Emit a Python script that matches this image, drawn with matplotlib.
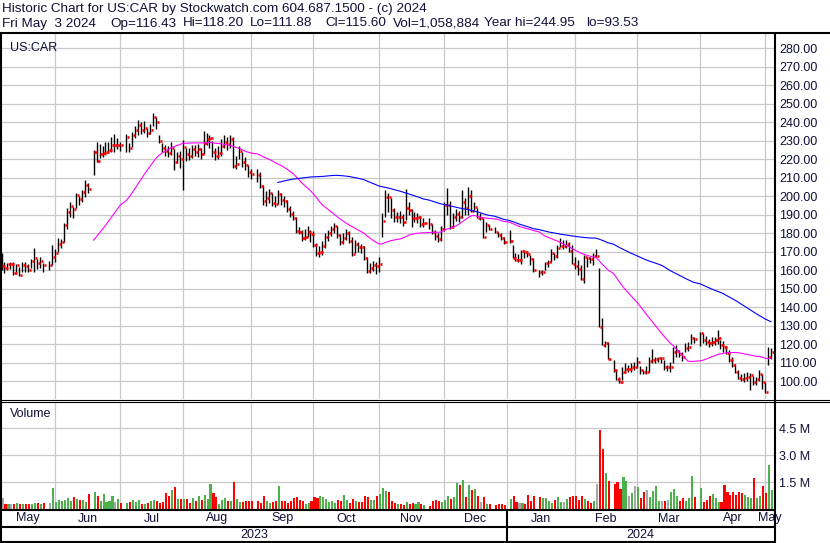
import numpy as np
import pandas as pd
import matplotlib
matplotlib.use('Agg')
import matplotlib.pyplot as plt
import matplotlib.transforms as mtransforms
from matplotlib.lines import Line2D

plt.rcParams['font.family'] = ['Liberation Sans', 'DejaVu Sans']

# daily bars US:CAR, 2023-05-08 .. 2024-05-03 (one line per month)
high = [
    169.2, 164.7, 164.0, 164.5, 164.3, 163.2, 162.0, 164.7, 164.3, 163.6, 166.1, 171.9, 166.1, 167.4, 164.1, 165.0, 173.7,
    171.4, 177.7, 177.0, 185.4, 193.5, 197.1, 194.4, 201.6, 200.4, 203.4, 208.8, 207.0, 224.9, 229.2, 228.1, 227.4, 229.2, 229.5, 232.3, 233.5, 231.3,
    229.5, 233.5, 229.0, 235.0, 238.0, 241.5, 240.0, 240.5, 237.0, 239.0, 244.95, 243.0, 233.2, 229.0, 227.5, 227.0, 229.5, 225.5, 224.0, 224.5,
    230.5, 226.0, 226.0, 227.5, 228.0, 228.5, 226.0, 235.5, 234.0, 233.0, 230.0, 226.0, 227.0, 231.0, 233.0, 232.0, 233.0, 232.0, 222.0, 227.0, 224.0, 221.0, 217.0,
    215.0, 214.5, 213.0, 206.0, 203.0, 204.0, 202.0, 200.0, 203.5, 202.0, 200.0, 198.0, 194.5, 192.0, 189.0, 183.5, 182.0, 182.5, 184.0, 182.0,
    181.0, 175.0, 173.0, 176.0, 180.0, 182.0, 184.0, 185.5, 184.0, 179.5, 180.0, 182.5, 181.0, 178.0, 176.5, 175.5, 174.0, 173.0, 167.0, 164.0, 165.0, 164.5,
    167.4, 190.8, 203.4, 201.6, 199.0, 193.5, 191.5, 192.0, 190.5, 204.0, 197.0, 193.0, 191.5, 191.0, 189.5, 188.5, 188.0, 185.0, 182.0, 180.0, 184.0,
    197.0, 204.5, 197.5, 191.0, 193.0, 192.0, 203.5, 199.0, 205.2, 203.4, 197.1, 193.5, 190.8, 188.1, 186.3, 184.5, 183.6, 180.9, 180.0, 178.0,
    181.8, 173.7, 169.2, 168.6, 171.0, 170.4, 170.1, 168.3, 166.5, 160.1, 160.1, 164.7, 165.6, 171.5, 169.2, 173.7, 177.3, 176.4, 176.4, 175.5, 173.7,
    167.4, 165.6, 162.9, 168.0, 167.4, 167.4, 169.2, 171.5, 161.1, 134.0, 122.0, 121.0, 111.5, 106.1, 102.5, 107.9, 109.7, 109.0, 109.7, 110.5,
    113.0, 108.0, 106.0, 108.0, 113.0, 117.5, 113.0, 113.0, 113.0, 111.5, 108.8, 110.5, 118.7, 119.5, 117.0, 116.0, 120.5, 121.0, 125.5, 124.0,
    126.5, 126.0, 124.5, 123.0, 124.0, 124.0, 127.5, 122.5, 121.5, 119.0, 117.0, 113.0, 109.5, 106.0, 104.0, 104.5, 105.0, 104.5, 103.0, 102.5, 106.0, 104.0,
    99.5, 118.7, 118.2,
]
low = [
    160.2, 158.4, 160.2, 160.7, 157.5, 159.3, 157.0, 159.3, 158.9, 159.3, 161.4, 159.3, 160.7, 161.4, 159.3, 160.2, 162.9,
    164.7, 170.1, 172.0, 175.1, 182.3, 189.0, 188.4, 193.5, 195.3, 197.1, 199.8, 201.6, 211.5, 218.7, 220.5, 221.4, 222.3, 223.2, 224.1, 224.1, 225.8,
    224.5, 224.1, 224.0, 226.5, 231.5, 233.0, 233.5, 234.0, 232.0, 233.5, 238.0, 236.5, 228.6, 224.0, 222.0, 221.5, 222.5, 214.0, 218.0, 215.5,
    203.4, 219.0, 219.5, 220.5, 222.0, 221.0, 220.0, 223.0, 228.0, 226.0, 221.0, 219.5, 220.0, 222.0, 226.0, 225.0, 226.0, 215.5, 215.0, 220.0, 216.0, 214.0, 210.5,
    209.5, 208.0, 204.5, 195.5, 195.0, 196.5, 195.0, 194.0, 196.0, 195.5, 194.0, 191.5, 189.0, 187.0, 180.0, 179.5, 176.0, 176.5, 178.0, 175.5,
    172.5, 167.5, 167.0, 168.5, 172.0, 176.0, 178.5, 180.0, 177.5, 173.5, 174.0, 176.5, 174.5, 167.5, 169.5, 170.0, 169.5, 165.5, 158.5, 158.5, 159.5, 158.0,
    159.3, 178.2, 189.0, 191.7, 188.0, 186.0, 186.0, 185.5, 184.0, 187.0, 190.0, 183.5, 186.0, 185.5, 183.5, 183.5, 182.5, 179.5, 176.5, 175.5, 176.0,
    181.0, 190.0, 182.5, 183.0, 186.5, 186.0, 188.0, 190.0, 189.9, 191.7, 192.6, 188.1, 187.2, 177.6, 180.9, 181.8, 180.0, 178.2, 176.4, 174.0,
    174.6, 166.5, 165.0, 164.3, 163.4, 166.5, 167.4, 162.9, 159.3, 156.5, 157.4, 160.1, 162.0, 164.3, 165.6, 166.8, 172.8, 171.5, 171.9, 170.1, 163.2,
    160.7, 157.4, 154.5, 153.0, 162.0, 163.8, 162.9, 167.4, 129.2, 119.6, 118.5, 112.0, 105.2, 100.5, 99.0, 100.7, 105.2, 105.0, 105.0, 106.0,
    107.0, 104.0, 104.0, 104.0, 105.0, 109.7, 109.7, 110.5, 109.7, 106.1, 105.7, 105.2, 109.7, 113.3, 113.0, 111.0, 116.0, 116.5, 120.0, 120.5,
    119.0, 120.5, 119.5, 118.5, 119.0, 119.5, 120.0, 117.5, 116.0, 114.5, 110.5, 107.5, 104.5, 101.0, 100.0, 99.5, 100.0, 95.5, 98.0, 98.0, 100.0, 96.0,
    93.53, 108.8, 111.88,
]
close = [
    162.3, 161.3, 163.6, 163.6, 158.6, 162.7, 157.5, 162.9, 162.3, 160.2, 165.2, 166.7, 164.1, 165.2, 162.9, 162.9, 167.4,
    169.5, 174.4, 175.5, 184.7, 191.5, 194.8, 193.2, 200.7, 198.6, 202.5, 206.1, 204.0, 224.1, 219.1, 223.1, 223.6, 224.1, 224.9, 227.7, 227.7, 227.9,
    227.7, 232.1, 226.1, 233.3, 236.0, 238.7, 236.0, 237.1, 234.4, 236.0, 243.1, 240.0, 230.1, 226.3, 224.3, 223.6, 226.3, 218.7, 222.0, 220.4,
    226.7, 222.9, 222.0, 225.4, 224.1, 225.4, 222.9, 229.0, 231.2, 231.7, 224.0, 221.8, 223.6, 227.4, 229.5, 228.5, 231.2, 216.4, 217.3, 224.5, 218.7, 216.8, 213.2,
    212.1, 211.7, 205.8, 197.3, 199.1, 201.6, 196.6, 195.9, 201.3, 198.0, 197.7, 193.2, 190.6, 188.3, 181.4, 180.7, 177.7, 178.2, 180.7, 179.6,
    173.7, 169.2, 169.7, 173.1, 178.0, 180.0, 182.1, 183.9, 179.1, 175.1, 177.6, 180.2, 176.0, 168.8, 174.2, 172.8, 172.4, 166.8, 159.8, 161.1, 163.0, 162.3,
    163.6, 186.8, 199.8, 199.4, 192.6, 188.6, 188.8, 188.6, 186.3, 193.8, 192.8, 188.1, 188.4, 188.6, 185.0, 185.7, 184.8, 180.9, 178.5, 177.1, 182.5,
    195.1, 195.3, 183.6, 188.6, 190.6, 188.6, 197.1, 193.5, 200.3, 192.2, 194.2, 188.4, 188.4, 178.0, 184.5, 182.1, 180.5, 179.1, 177.3, 175.5,
    176.0, 166.8, 165.7, 165.7, 170.4, 170.1, 168.6, 166.3, 160.1, 159.1, 159.2, 163.8, 164.3, 169.5, 167.7, 172.0, 173.3, 173.3, 174.2, 170.4, 163.6,
    162.5, 160.7, 155.3, 167.0, 166.5, 166.3, 167.9, 167.9, 129.3, 119.6, 120.9, 112.2, 106.1, 101.1, 99.8, 104.8, 106.8, 106.8, 107.5, 107.5,
    110.2, 106.1, 105.0, 105.0, 111.1, 111.5, 111.8, 112.7, 112.7, 107.5, 107.5, 107.9, 115.6, 116.2, 114.5, 113.3, 118.1, 118.3, 123.2, 122.9,
    125.9, 122.5, 121.4, 120.5, 121.4, 122.3, 123.5, 119.6, 118.7, 115.5, 111.5, 108.8, 105.2, 101.6, 101.2, 101.6, 102.5, 103.4, 99.8, 101.1, 103.8, 99.5,
    94.4, 113.3, 115.6,
]
# volume in millions of shares
volume = [
    0.6, 0.3, 0.3, 0.27, 0.27, 0.35, 0.27, 0.27, 0.27, 0.27, 0.3, 0.35, 0.35, 0.3, 0.35, 0.35, 1.15,
    0.4, 0.5, 0.45, 0.5, 0.6, 0.45, 0.65, 0.55, 0.5, 0.5, 0.4, 0.85, 0.95, 0.7, 0.45, 0.85, 0.4, 0.45, 0.7, 0.4, 0.55,
    0.35, 0.35, 0.4, 0.5, 0.4, 0.5, 0.3, 0.3, 0.35, 0.45, 0.5, 0.45, 0.35, 0.4, 0.9, 0.7, 1.05, 1.25, 0.55, 0.55,
    0.55, 0.55, 0.35, 0.6, 0.45, 0.7, 0.5, 0.8, 0.55, 1.4, 0.9, 0.65, 0.3, 0.5, 0.6, 0.45, 0.45, 1.5, 0.55, 0.4, 0.4, 0.45, 0.45,
    0.45, 0.45, 0.35, 0.7, 0.45, 0.35, 0.4, 0.45, 1.3, 0.45, 0.45, 0.35, 0.45, 0.6, 0.65, 0.5, 0.45, 0.3, 0.35, 0.45,
    0.65, 0.6, 0.7, 0.65, 0.55, 0.4, 0.45, 0.35, 0.5, 0.45, 0.8, 0.5, 0.35, 0.55, 0.45, 0.4, 0.4, 0.75, 0.65, 0.5, 0.5, 0.7,
    0.85, 1.15, 1.0, 0.95, 0.45, 0.35, 0.3, 0.3, 0.25, 0.4, 0.3, 0.35, 0.3, 0.4, 0.3, 0.25, 0.15, 0.45, 0.5, 0.45, 0.4,
    0.5, 0.7, 0.55, 0.65, 1.45, 1.35, 1.6, 0.65, 1.35, 1.05, 1.1, 0.7, 0.4, 0.65, 0.3, 0.3, 0.2, 0.3, 0.3, 0.25,
    0.55, 0.75, 0.4, 0.35, 0.35, 0.3, 0.8, 0.45, 0.75, 0.65, 0.6, 0.6, 0.45, 0.35, 0.5, 0.65, 0.4, 0.4, 0.55, 0.65, 0.7,
    0.75, 0.5, 0.75, 0.55, 0.45, 0.35, 0.45, 1.41, 4.4, 3.35, 1.98, 1.58, 1.4, 1.5, 1.1, 1.8, 1.55, 0.75, 0.9, 1.3,
    1.2, 0.6, 0.95, 1.05, 0.65, 1.0, 1.3, 0.45, 0.45, 0.45, 0.5, 0.95, 1.1, 0.75, 0.45, 0.6, 0.45, 0.6, 1.81, 0.65,
    1.15, 0.4, 0.5, 0.75, 0.85, 0.6, 0.4, 0.4, 1.35, 0.95, 0.8, 0.95, 0.8, 0.95, 0.9, 0.8, 0.65, 0.6, 1.7, 0.6, 0.75, 1.3,
    0.9, 2.46, 1.06,
]
holidays = ['2023-05-29', '2023-06-19', '2023-07-04', '2023-09-04', '2023-11-23',
            '2023-12-25', '2024-01-01', '2024-01-15', '2024-02-19', '2024-03-29']
month_names = ['May', 'Jun', 'Jul', 'Aug', 'Sep', 'Oct', 'Nov', 'Dec', 'Jan', 'Feb', 'Mar', 'Apr', 'May']
header1 = 'Historic Chart for US:CAR by Stockwatch.com 604.687.1500 - (c) 2024'
header2 = ['Fri May  3 2024', 'Op=116.43', 'Hi=118.20', 'Lo=111.88', 'Cl=115.60',
           'Vol=1,058,884', 'Year hi=244.95', 'lo=93.53']
header2_px = [2, 110, 183, 250, 325, 393, 484, 586]

# x axis = weekday slot, holidays leave a gap
weekdays = pd.bdate_range('2023-05-08', '2024-05-03')
slot = pd.Series(np.arange(len(weekdays)), index=weekdays)
days = weekdays[~weekdays.isin(pd.to_datetime(holidays))]
df = pd.DataFrame({'high': high, 'low': low, 'close': close, 'volume': volume}, index=days)
df['x'] = slot[days].values
ma30 = df['close'].rolling(30).mean()
ma90 = df['close'].rolling(90).mean()
chg = df['close'].diff().fillna(0)
vcol = np.where(chg > 0, '#4cb04c', np.where(chg < 0, '#ff0000', '#a8a8a8'))

month_start = slot.groupby([slot.index.year, slot.index.month]).first().values[1:]
x0, x1 = -0.17, 260.35
bounds = [x0] + list(month_start) + [x1]

W, H = 830, 543
fig = plt.figure(figsize=(W / 100, H / 100), dpi=100)


def box(l, t, r, b):
    return [l / W, 1 - b / H, (r - l) / W, (b - t) / H]


def pline(xs, ys, lw=1.0):
    fig.add_artist(Line2D([v / W for v in xs], [1 - v / H for v in ys], color='black',
                          lw=lw, transform=fig.transFigure, solid_capstyle='butt'))


ink = '#101038'
grid = '#c8c8c8'
fs = 9.0
ax = fig.add_axes(box(1, 33, 775, 399))
axv = fig.add_axes(box(1, 402, 775, 509))

ax.vlines(df['x'], df['low'], df['high'], color='black', lw=1.0)
ax.hlines(df['close'], df['x'] + 0.3, df['x'] + 1.05, color='#ff0000', lw=1.9)
ax.plot(df['x'], ma30, color='#ff00ff', lw=0.8)
ax.plot(df['x'], ma90, color='#0000ff', lw=0.8)
ax.set_ylim(90.4, 288.3)
ax.set_yticks(np.arange(100, 281, 10))
ax.set_yticklabels([f'{v:.2f}' for v in np.arange(100, 281, 10)])

axv.bar(df['x'], df['volume'], width=0.7, align='edge', color=vcol, lw=0)
axv.set_ylim(0, 5.95)
axv.set_yticks([1.5, 3.0, 4.5])
axv.set_yticklabels(['1.5 M', '3.0 M', '4.5 M'])

for a in (ax, axv):
    a.set_xlim(x0, x1)
    a.set_xticks(month_start)
    a.tick_params(axis='x', length=0, labelbottom=False)
    a.yaxis.tick_right()
    a.tick_params(axis='y', length=0, pad=3, labelsize=fs, labelcolor=ink)
    a.grid(True, color=grid, lw=0.9)
    a.set_axisbelow(True)
    for s in a.spines.values():
        s.set_visible(False)

ax.text(0.011, 0.975, 'US:CAR', transform=ax.transAxes, ha='left', va='top', fontsize=fs, color=ink)
axv.text(0.011, 0.94, 'Volume', transform=axv.transAxes, ha='left', va='top', fontsize=fs, color=ink)

# month and year labels under the volume panel
tr = mtransforms.blended_transform_factory(axv.transData, fig.transFigure)
for i, name in enumerate(month_names):
    fig.text((bounds[i] + bounds[i + 1]) / 2, 1 - 518.5 / H, name, transform=tr,
             ha='center', va='center', fontsize=fs, color=ink)
jan = month_start[7]
fig.text((x0 + jan) / 2, 1 - 534.5 / H, '2023', transform=tr, ha='center', va='center', fontsize=fs, color=ink)
fig.text((jan + x1) / 2, 1 - 534.5 / H, '2024', transform=tr, ha='center', va='center', fontsize=fs, color=ink)

fig.text(2 / W, 1 - 9 / H, header1, ha='left', va='center', fontsize=9.7, color=ink)
for s, px in zip(header2, header2_px):
    fig.text(px / W, 1 - 23.5 / H, s, ha='left', va='center', fontsize=9.7, color=ink)

# frame
jan_px = 1 + (jan - x0) / (x1 - x0) * 774
pline([0, W], [33, 33], 1.5)
pline([0, W], [399.5, 399.5], 0.8)
pline([0, W], [401.8, 401.8], 0.8)
pline([0, 775], [509.5, 509.5], 1.5)
pline([0, 775], [527, 527], 1.5)
pline([0, 775], [541.8, 541.8], 1.5)
pline([774.5, 774.5], [33, H], 1.5)
pline([0.7, 0.7], [33, 542], 1.5)
pline([jan_px, jan_px], [509, 542], 1.5)

fig.savefig('out.png', dpi=100)
